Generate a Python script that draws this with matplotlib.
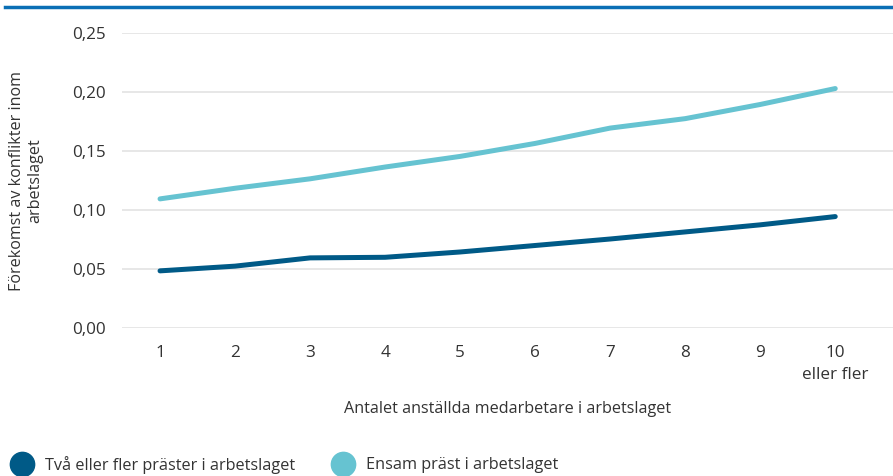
import matplotlib.pyplot as plt
from matplotlib.lines import Line2D

# Data
antal = [1, 2, 3, 4, 5, 6, 7, 8, 9, 10]
tick_labels = ["1", "2", "3", "4", "5", "6", "7", "8", "9", "10\neller fler"]
tva_eller_fler = [0.048, 0.052, 0.059, 0.0595, 0.064, 0.0695, 0.075, 0.081, 0.087, 0.094]
ensam = [0.109, 0.118, 0.126, 0.136, 0.145, 0.156, 0.169, 0.177, 0.189, 0.2025]
yticks = [0.0, 0.05, 0.10, 0.15, 0.20, 0.25]
serie_namn = ["Två eller fler präster i arbetslaget", "Ensam präst i arbetslaget"]

DARK = "#005a87"
LIGHT = "#66c3d1"
TEXT = "#333333"

W, H = 893, 477
plt.rcParams["font.family"] = ["Open Sans", "DejaVu Sans"]

fig = plt.figure(figsize=(W / 100, H / 100), dpi=100)
ax = fig.add_axes([122 / W, 1 - 328.5 / H, 1 - 122 / W, 295 / H])

ax.plot(antal, tva_eller_fler, color=DARK, lw=3.6, solid_capstyle="round")
ax.plot(antal, ensam, color=LIGHT, lw=3.6, solid_capstyle="round")

ax.set_xlim(0.493, 10.77)
ax.set_ylim(0, 0.25)
ax.set_yticks(yticks)
ax.set_yticklabels([f"{v:.2f}".replace(".", ",") for v in yticks])
ax.set_xticks(antal)
ax.set_xticklabels(tick_labels, linespacing=1.45)
ax.tick_params(length=0, labelsize=12.3, colors=TEXT)
ax.tick_params(axis="x", pad=12)
ax.tick_params(axis="y", pad=12)

ax.grid(axis="y", color="#e3e3e3", lw=1.2)
ax.set_axisbelow(True)
for s in ax.spines.values():
    s.set_visible(False)

ax.set_xlabel("Antalet anställda medarbetare i arbetslaget", fontsize=11.6, color=TEXT, labelpad=13)
fig.text(26 / W, 1 - 181 / H, "Förekomst av konflikter inom\narbetslaget", rotation=90,
         ha="center", va="center", fontsize=11.6, color=TEXT, linespacing=1.15)

# top blue rule
fig.add_artist(Line2D([5 / W, 1], [1 - 8 / H, 1 - 8 / H], color="#0a6fb5", lw=2.5,
                      transform=fig.transFigure))

# legend
ly = 1 - 465 / H
for cx, tx, col, namn in [(22, 45, DARK, serie_namn[0]), (343, 366, LIGHT, serie_namn[1])]:
    fig.add_artist(Line2D([cx / W], [ly], marker="o", ls="", markersize=17.5, color=col,
                          transform=fig.transFigure))
    fig.text(tx / W, ly, namn, ha="left", va="center", fontsize=11.7, color=TEXT)

fig.savefig("out.png", dpi=100)
